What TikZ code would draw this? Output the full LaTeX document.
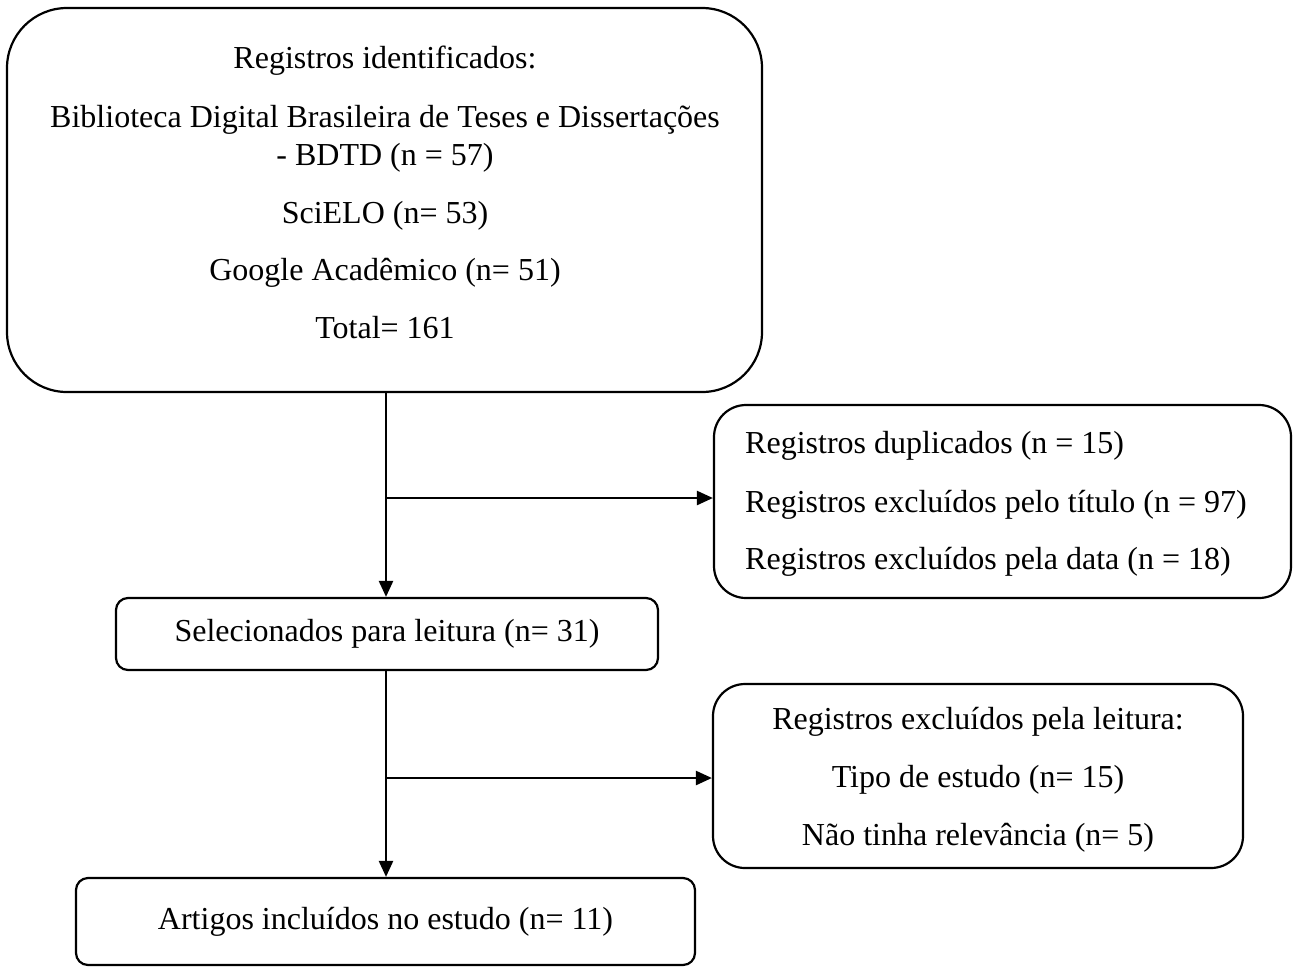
\documentclass[tikz,border=0pt]{standalone}
\usepackage{fontspec}
\setmainfont{Liberation Serif}
\usetikzlibrary{arrows.meta}
\begin{document}
\begin{tikzpicture}[x=1pt,y=-1pt,
  box/.style={draw,line width=2.2pt,inner sep=0pt,fill=none},
  txt/.style={font=\fontsize{32}{38}\selectfont,inner sep=0pt},
  arr/.style={line width=2.4pt,-{Triangle[length=16pt,width=14pt]}},
  ln/.style={line width=2.4pt}]
\useasboundingbox (0,0) rectangle (1300,967);
% boxes
\node[box,rounded corners=60pt,minimum width=755pt,minimum height=384pt] (b1) at (384.5,200) {};
\node[box,rounded corners=32pt,minimum width=577pt,minimum height=193pt] (b2) at (1002.5,501.5) {};
\node[box,rounded corners=12pt,minimum width=542pt,minimum height=72pt,txt] (b3) at (387,634) {Selecionados para leitura (n= 31)};
\node[box,rounded corners=32pt,minimum width=530pt,minimum height=184pt] (b4) at (978,776) {};
\node[box,rounded corners=12pt,minimum width=619pt,minimum height=87pt,txt] (b5) at (385.5,921.5) {Artigos incluídos no estudo (n= 11)};
% texts
\node[txt,align=center] (t1) at (385,192) {Registros identificados:\\[21pt]
Biblioteca Digital Brasileira de Teses e Dissertações\\
- BDTD (n = 57)\\[20pt]
SciELO (n= 53)\\[19pt]
Google Acadêmico (n= 51)\\[20pt]
Total= 161};
\node[txt,align=left,anchor=west] (t2) at (745,504) {Registros duplicados (n = 15)\\[21pt]
Registros excluídos pelo título (n = 97)\\[19pt]
Registros excluídos pela data (n = 18)};
\node[txt,align=center] (t4) at (978,780) {Registros excluídos pela leitura:\\[20pt]
Tipo de estudo (n= 15)\\[20pt]
Não tinha relevância (n= 5)};
% connectors
\coordinate (j1) at (386,498);
\coordinate (j2) at (386,778);
\draw[arr] (b1.south -| j1) -- (b3.north -| j1);
\draw[arr] (j1) -- (j1 -| b2.west);
\draw[arr] (b3.south -| j2) -- (b5.north -| j2);
\draw[arr] (j2) -- (j2 -| b4.west);
\end{tikzpicture}
\end{document}
